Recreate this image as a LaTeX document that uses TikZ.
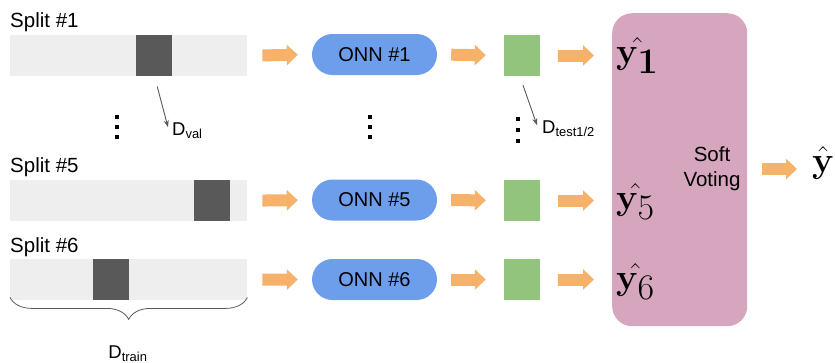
\RequirePackage{fix-cm}
\documentclass[tikz,border=0pt]{standalone}
\usepackage[no-math]{fontspec}
\setmainfont{Liberation Sans}
\usetikzlibrary{arrows.meta,decorations.pathreplacing}

\definecolor{barbg}{HTML}{EEEEEE}
\definecolor{darkblk}{HTML}{595959}
\definecolor{flow}{HTML}{F6B26B}
\definecolor{onnblue}{HTML}{6D9EEB}
\definecolor{outgreen}{HTML}{93C47D}
\definecolor{votepink}{HTML}{D5A6BD}

\tikzset{
  lbl/.style={font=\fontsize{20.5}{24}\selectfont, inner sep=0pt, anchor=base west},
  bar/.style={fill=barbg, draw=none, minimum width=237pt, minimum height=41pt, inner sep=0pt, anchor=north west},
  blk/.style={fill=darkblk, draw=none, minimum width=36pt, minimum height=41pt, inner sep=0pt, anchor=north west},
  onn/.style={fill=onnblue, draw=none, rounded corners=20.5pt, minimum width=125pt, minimum height=41pt, inner sep=0pt, font=\fontsize{20}{24}\selectfont},
  outsq/.style={fill=outgreen, draw=none, minimum width=36pt, minimum height=41pt, inner sep=0pt},
  flowarr/.style={draw=flow, line width=12pt, -{Triangle[width=20pt,length=11pt]}},
  ptr/.style={draw=darkblk, line width=0.9pt, -{Stealth[length=7pt,width=5pt]}},
  sub/.style={font=\fontsize{18.5}{22}\selectfont, inner sep=0pt, anchor=base west},
  yhat/.style={font=\fontsize{36}{40}\selectfont, inner sep=0pt, anchor=base west},
  dot/.style={fill=black, draw=none},
}

\begin{document}
\begin{tikzpicture}[x=1pt, y=-1pt]
\useasboundingbox (0,0) rectangle (835,362);

% split labels
\node[lbl] (s1) at (10,27) {Split \#1};
\node[lbl] (s5) at (10,172) {Split \#5};
\node[lbl] (s6) at (10,252) {Split \#6};

% data bars with the held-out block
\node[bar] (bar1) at (10,35) {};
\node[blk] (blk1) at (136,35) {};
\node[bar] (bar5) at (10,180) {};
\node[blk] (blk5) at (194,180) {};
\node[bar] (bar6) at (10,259) {};
\node[blk] (blk6) at (93,259) {};

% networks
\node[onn] (onn1) at (374.5,54.5) {ONN \#1};
\node[onn] (onn5) at (374.5,200) {ONN \#5};
\node[onn] (onn6) at (374.5,279.5) {ONN \#6};

% per-split outputs
\node[outsq] (out1) at (522,55.5) {};
\node[outsq] (out5) at (522,200.5) {};
\node[outsq] (out6) at (522,279.5) {};

% soft voting block
\node[fill=votepink, draw=none, rounded corners=20pt, minimum width=135pt, minimum height=313pt, inner sep=0pt,
      anchor=north west] (vote) at (612,13) {};
\node[font=\fontsize{20.5}{25}\selectfont, align=center, inner sep=0pt] (sv) at (712,169) {Soft\\Voting};

\node[yhat] (y1) at (616,63) {$\hat{\mathbf{y}_{\textstyle\mathbf{1}}}$};
\node[yhat] (y5) at (616,209) {$\hat{\mathbf{y}_{\textstyle 5}}$};
\node[yhat] (y6) at (616,289) {$\hat{\mathbf{y}_{\textstyle 6}}$};
\node[yhat] (yf) at (812,172) {$\hat{\mathbf{y}}$};

% flow arrows
\foreach \r in {1,5,6} {
  \draw[flowarr, shorten <=15pt, shorten >=14pt] (bar\r.east) -- (onn\r.west);
  \draw[flowarr, shorten <=14pt, shorten >=18pt] (onn\r.east) -- (out\r.west);
  \draw[flowarr, shorten <=18pt, shorten >=18pt] (out\r.east) -- (out\r.east -| vote.west);
}
\draw[flowarr, shorten <=15pt, shorten >=15pt] (vote.east |- sv) -- (yf.west |- sv);

% subset labels
\node[sub] (dval) at (172,135) {D\textsubscript{val}};
\node[sub] (dtest) at (542,133) {D\textsubscript{test1/2}};
\draw[ptr] ([shift={(3,10)}]blk1.south) -- ([shift={(-4,-3)}]dval.west);
\draw[ptr] ([shift={(1,9)}]out1.south) -- ([shift={(-5,-3)}]dtest.west);

% vertical ellipses
\foreach \x in {117,370} {
  \foreach \y in {117,127,137} \fill[dot] (\x-1.8,\y-1.8) rectangle (\x+1.8,\y+1.8);
}
\foreach \y in {119,130,141} \fill[dot] (518-1.8,\y-1.8) rectangle (518+1.8,\y+1.8);

% training brace
\draw[darkblk, line width=0.8pt, decorate, decoration={brace, mirror, amplitude=22pt}]
  ([yshift=3]bar6.south west) -- ([yshift=3]bar6.south east);
\node[sub, anchor=base] (dtrain) at (128,358) {D\textsubscript{train}};
\end{tikzpicture}
\end{document}
